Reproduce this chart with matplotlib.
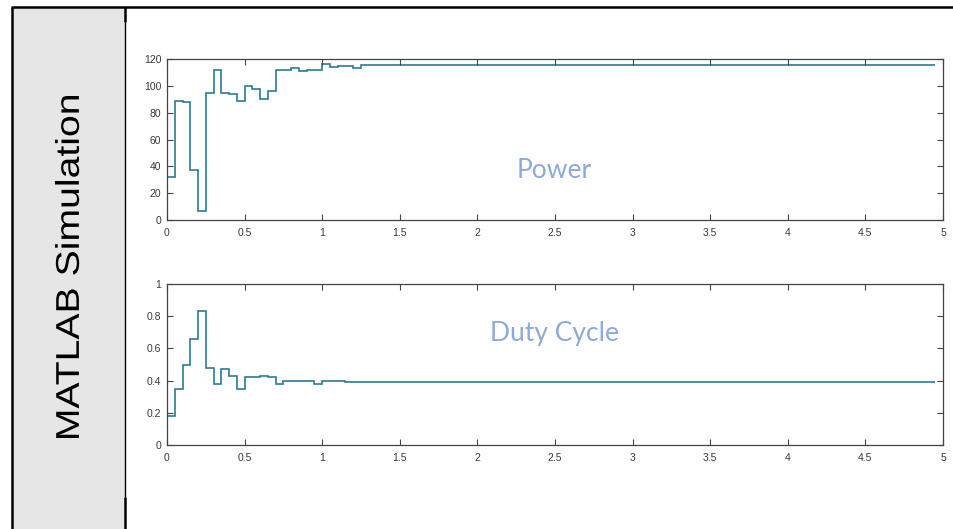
import matplotlib
matplotlib.use("Agg")
import matplotlib.pyplot as plt
from matplotlib.ticker import FixedLocator
from matplotlib.textpath import TextPath
from matplotlib.patches import PathPatch
from matplotlib.font_manager import FontProperties
from matplotlib.transforms import Affine2D

# Power (step output) – breakpoints in seconds and the value held on each step
power_edges = [0.0, 0.05, 0.10, 0.15, 0.20, 0.25, 0.30, 0.35, 0.40, 0.45, 0.50,
               0.55, 0.60, 0.65, 0.70, 0.80, 0.85, 0.90, 1.00, 1.05, 1.10, 1.15,
               1.20, 1.25, 4.95]
power_vals = [32, 89, 88, 37, 7, 95, 112, 95, 94, 89, 100,
              98, 90, 96, 112, 113, 111, 112, 116, 114, 114.5, 115,
              113, 115.5]

# Duty cycle (step output)
duty_edges = [0.0, 0.05, 0.10, 0.15, 0.20, 0.25, 0.30, 0.35, 0.40, 0.45, 0.50,
              0.60, 0.65, 0.70, 0.75, 0.80, 0.85, 0.95, 1.00, 1.15, 1.20, 1.25,
              4.95]
duty_vals = [0.18, 0.35, 0.50, 0.66, 0.83, 0.48, 0.38, 0.47, 0.43, 0.35, 0.42,
             0.43, 0.425, 0.38, 0.40, 0.395, 0.40, 0.38, 0.395, 0.39, 0.392, 0.39]

x_ticks = [0, 0.5, 1, 1.5, 2, 2.5, 3, 3.5, 4, 4.5, 5]
x_ticklabels = ["0", "0.5", "1", "1.5", "2", "2.5", "3", "3.5", "4", "4.5", "5"]
power_ticks = [0, 20, 40, 60, 80, 100, 120]
duty_ticks = [0, 0.2, 0.4, 0.6, 0.8, 1]
duty_ticklabels = ["0", "0.2", "0.4", "0.6", "0.8", "1"]

side_label = "MATLAB Simulation"

W, H = 954, 529
fig = plt.figure(figsize=(W / 100, H / 100), dpi=100)
fig.patch.set_facecolor("white")

# Table frame and the shaded label cell, drawn in pixel coordinates
bg = fig.add_axes([0, 0, 1, 1])
bg.set_xlim(0, W)
bg.set_ylim(H, 0)
bg.axis("off")
bg.add_patch(plt.Rectangle((12, 7), 113, H - 7, facecolor="#e6e6e6",
                           edgecolor="none", zorder=0))
bg.plot([11, W], [7, 7], color="black", lw=1.8, solid_capstyle="butt")
bg.plot([12, 12], [7, H], color="black", lw=1.8, solid_capstyle="butt")
bg.plot([125, 125], [7, 22], color="black", lw=1.8, solid_capstyle="butt")
bg.plot([125, 125], [22, 497], color="black", lw=1.0, solid_capstyle="butt")
bg.plot([125, 125], [497, H], color="black", lw=1.8, solid_capstyle="butt")

# Vertical cell caption, drawn as an outline slightly stretched along its length
tp = TextPath((0, 0), side_label, size=1,
              prop=FontProperties(family="Liberation Sans"))
ext = tp.get_extents()
em_px = 33
length_px = 342
sx = length_px / ext.width
cx, cy = 67, 267
text_tf = (Affine2D().translate(-(ext.x0 + ext.width / 2), -0.36)
           .scale(sx, em_px)
           .get_matrix())
flip = Affine2D.from_values(0, -1, -1, 0, cx, cy)
full_tf = Affine2D(text_tf) + flip
bg.add_patch(PathPatch(full_tf.transform_path(tp), facecolor="black",
                       edgecolor="none", lw=0))

line_color = "#2b7c93"
spine_color = "#444444"
tick_color = "#3a3a3a"


def style_axes(ax):
    for s in ax.spines.values():
        s.set_color(spine_color)
        s.set_linewidth(0.9)
    ax.tick_params(direction="in", length=4, width=0.8, color=spine_color,
                   top=True, right=True, labelsize=7.5, labelcolor=tick_color)
    ax.tick_params(axis="x", pad=6)
    ax.tick_params(axis="y", pad=4)
    for lab in ax.get_xticklabels() + ax.get_yticklabels():
        lab.set_family("Liberation Sans")


def pix_axes(left, top, right, bottom):
    return fig.add_axes([left / W, 1 - bottom / H, (right - left) / W,
                         (bottom - top) / H])


ax1 = pix_axes(167, 59, 943, 220)
ax1.stairs(power_vals, power_edges, color=line_color, lw=1.2, baseline=None)
ax1.set_xlim(0, 5)
ax1.set_ylim(0, 120)
ax1.xaxis.set_major_locator(FixedLocator(x_ticks))
ax1.set_xticklabels(x_ticklabels)
ax1.yaxis.set_major_locator(FixedLocator(power_ticks))
ax1.set_yticklabels([str(v) for v in power_ticks])
style_axes(ax1)

ax2 = pix_axes(167, 284, 943, 445)
ax2.stairs(duty_vals, duty_edges, color=line_color, lw=1.2, baseline=None)
ax2.set_xlim(0, 5)
ax2.set_ylim(0, 1)
ax2.xaxis.set_major_locator(FixedLocator(x_ticks))
ax2.set_xticklabels(x_ticklabels)
ax2.yaxis.set_major_locator(FixedLocator(duty_ticks))
ax2.set_yticklabels(duty_ticklabels)
style_axes(ax2)

label_color = "#8eaadb"
fig.text(554 / W, 1 - 171 / H, "Power", ha="center", va="center",
         fontsize=19, family="Lato", color=label_color)
fig.text(555 / W, 1 - 334 / H, "Duty Cycle", ha="center", va="center",
         fontsize=19, family="Lato", color=label_color)

fig.savefig("out.png", dpi=100, facecolor="white")
